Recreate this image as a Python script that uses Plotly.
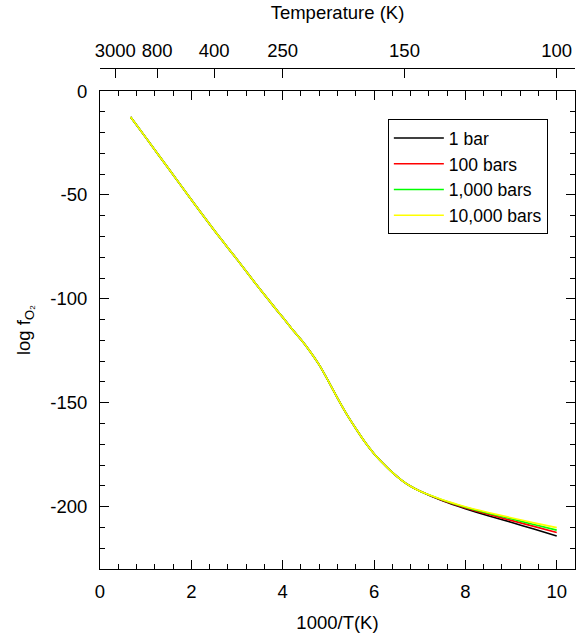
import plotly.graph_objects as go

# 1000/T values and log fO2 curves
x_vals = [0.67, 1.0, 1.5, 2.0, 2.5, 3.0, 3.5, 3.8, 4.0, 4.2, 4.4, 4.6, 4.8, 5.0,
          5.2, 5.4, 5.6, 5.8, 6.0, 6.2, 6.4, 6.6, 6.8, 7.0, 7.5, 8.0, 8.5, 9.0, 9.5, 10.0]
common = [-12.5, -22.3, -37.3, -52.3, -67.0, -81.0, -95.3, -103.5, -108.9, -114.4,
          -119.6, -125.3, -131.8, -139.6, -147.8, -155.5, -162.4, -168.9, -174.5,
          -179.2, -183.5, -187.2, -190.2, -192.5]
tail_1bar = [-197.2, -201.0, -204.4, -207.5, -210.8, -214.1]
tail_100 = [-197.0, -200.6, -203.7, -206.6, -209.5, -212.4]
tail_1000 = [-196.8, -200.3, -203.2, -205.8, -208.6, -211.3]
tail_10000 = [-196.7, -200.0, -202.8, -205.3, -207.8, -210.1]

series_names = ["1 bar", "100 bars", "1,000 bars", "10,000 bars"]
series_colors = ["#000000", "#ff0000", "#00ff00", "#ffff00"]
series_tails = [tail_1bar, tail_100, tail_1000, tail_10000]

temp_labels = ["3000", "800", "400", "250", "150", "100"]
temp_values = [3000, 800, 400, 250, 150, 100]
x_ticks = [0, 2, 4, 6, 8, 10]
y_ticks = [0, -50, -100, -150, -200]

FONT = "Liberation Sans, Arial, sans-serif"
FS = 18.5
LFS = 17.5

fig = go.Figure()
for name, color, tail in zip(series_names, series_colors, series_tails):
    fig.add_trace(go.Scatter(x=x_vals, y=common + tail, mode="lines", name=name,
                             line=dict(color=color, width=1.6, shape="spline", smoothing=0.6)))

# invisible traces to carry the extra axes
fig.add_trace(go.Scatter(x=[1000 / t for t in temp_values], y=[None] * len(temp_values),
                         xaxis="x2", showlegend=False, hoverinfo="skip", mode="lines"))
fig.add_trace(go.Scatter(x=[0], y=[None], xaxis="x3", showlegend=False, hoverinfo="skip", mode="lines"))
fig.add_trace(go.Scatter(x=[0], y=[None], yaxis="y2", showlegend=False, hoverinfo="skip", mode="lines"))

XR = [0, 10.4]
YR = [-230, 0]
YD = [0, 0.954]
xminor = dict(dtick=0.4, tick0=0, ticks="inside", ticklen=5, tickcolor="black", showgrid=False)
yminor = dict(dtick=10, tick0=0, ticks="inside", ticklen=5, tickcolor="black", showgrid=False)

fig.update_layout(
    width=576, height=636,
    margin=dict(l=100, r=1, t=68, b=67),
    paper_bgcolor="white", plot_bgcolor="white",
    font=dict(family=FONT, size=FS, color="black"),
    showlegend=True,
    legend=dict(x=0.606, y=0.898, xanchor="left", yanchor="top",
                bordercolor="black", borderwidth=1, bgcolor="white",
                font=dict(family=FONT, size=LFS), tracegroupgap=0, itemwidth=50),
    xaxis=dict(range=XR, domain=[0, 1], showline=True, linecolor="black", linewidth=1,
               ticks="inside", ticklen=9, tickcolor="black",
               tickvals=x_ticks, showgrid=False, zeroline=False, minor=xminor,
               ticklabelstandoff=6,
               title=dict(text="1000/T(K)", standoff=14, font=dict(size=FS))),
    xaxis3=dict(range=XR, overlaying="x", side="top", anchor="y", showline=True,
                linecolor="black", linewidth=1, ticks="inside", ticklen=9, tickcolor="black",
                tickvals=x_ticks, showticklabels=False, showgrid=False, zeroline=False, minor=xminor),
    xaxis2=dict(range=XR, overlaying="x", side="top", anchor="free", position=1,
                showline=True, linecolor="black", linewidth=1,
                ticks="inside", ticklen=9, tickcolor="black",
                tickvals=[1000 / t for t in temp_values], ticktext=temp_labels,
                showgrid=False, zeroline=False, ticklabelstandoff=4,
                title=dict(text="Temperature (K)", standoff=14, font=dict(size=FS))),
    yaxis=dict(range=YR, domain=YD, showline=True, linecolor="black", linewidth=1,
               ticks="inside", ticklen=9, tickcolor="black",
               tickvals=y_ticks, ticktext=[str(v) for v in y_ticks],
               showgrid=False, zeroline=False, ticklabelstandoff=8, minor=yminor,
               title=dict(text="log f<sub>O₂</sub>", standoff=14, font=dict(size=FS))),
    yaxis2=dict(range=YR, domain=YD, overlaying="y", side="right", anchor="x", showline=True,
                linecolor="black", linewidth=1, ticks="inside", ticklen=9, tickcolor="black",
                tickvals=y_ticks, showticklabels=False, showgrid=False, zeroline=False, minor=yminor),
)

fig.write_html("out.html")
